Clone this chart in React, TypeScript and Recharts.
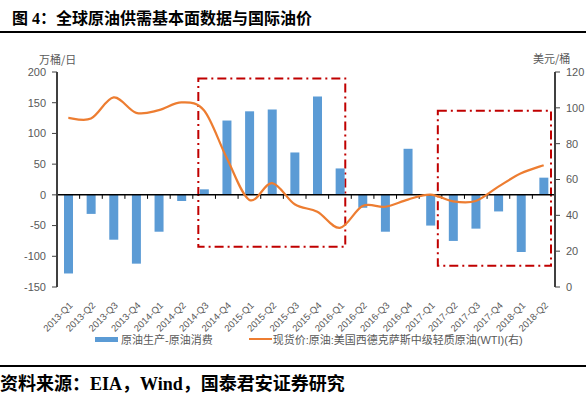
import React from "react"
import {
  ComposedChart, Bar, Line, XAxis, YAxis, ReferenceLine, ReferenceArea, Legend,
} from "recharts"

/* eslint-disable @typescript-eslint/no-explicit-any */

const quarters = [
  "2013-Q1", "2013-Q2", "2013-Q3", "2013-Q4", "2014-Q1", "2014-Q2", "2014-Q3", "2014-Q4",
  "2015-Q1", "2015-Q2", "2015-Q3", "2015-Q4", "2016-Q1", "2016-Q2", "2016-Q3", "2016-Q4",
  "2017-Q1", "2017-Q2", "2017-Q3", "2017-Q4", "2018-Q1", "2018-Q2",
]
// 原油生产-原油消费 (万桶/日)
const supplyGap = [
  -128, -31, -73, -112, -60, -10, 9, 121, 136, 139, 69, 160,
  43, -21, -60, 75, -50, -75, -55, -27, -93, 28,
]
// WTI 现货价 (美元/桶)
const wti = [
  94.4, 94, 105.8, 97.2, 98.7, 103, 98.5, 72, 48.6, 58, 46.2, 42,
  33, 45.2, 44.8, 48.8, 51.6, 47.8, 48, 56, 63.5, 68,
]
const leftTicks = [-150, -100, -50, 0, 50, 100, 150, 200]
const rightTicks = [0, 20, 40, 60, 80, 100, 120]

const BAR_COLOR = "#5B9BD5"
const LINE_COLOR = "#ED7D31"
const BOX_COLOR = "#C00000"
const TEXT_GRAY = "#595959"
const AXIS_GRAY = "#404040"

const chartData = quarters.map((q, i) => ({ q, gap: supplyGap[i], wti: wti[i] }))

// Excel-style smoothed line (catmull-rom through the points)
function excelSmooth(context: any) {
  let pts: number[][] = []
  return {
    areaStart() {},
    areaEnd() {},
    lineStart() { pts = [] },
    point(x: number, y: number) { pts.push([+x, +y]) },
    lineEnd() {
      if (!pts.length) return
      context.moveTo(pts[0][0], pts[0][1])
      for (let i = 0; i < pts.length - 1; i++) {
        const p0 = pts[i - 1] || pts[i]
        const p1 = pts[i]
        const p2 = pts[i + 1]
        const p3 = pts[i + 2] || pts[i + 1]
        context.bezierCurveTo(
          p1[0] + (p2[0] - p0[0]) / 6, p1[1] + (p2[1] - p0[1]) / 6,
          p2[0] - (p3[0] - p1[0]) / 6, p2[1] - (p3[1] - p1[1]) / 6,
          p2[0], p2[1],
        )
      }
    },
  }
}

const boxShape = (dl: number, dr: number) => (props: any) => (
  <rect
    x={props.x + dl}
    y={props.y}
    width={props.width - dl + dr}
    height={props.height}
    fill="none"
    stroke={BOX_COLOR}
    strokeWidth={2}
    strokeDasharray="9 4 2 4"
  />
)

// zero line with small category-boundary ticks hanging below it
const ZeroLine = (props: any) => {
  const { x1, x2, y1 } = props
  const step = (x2 - x1) / quarters.length
  return (
    <g>
      <line x1={x1} x2={x2} y1={y1} y2={y1} stroke="#000" strokeWidth={1.5} />
      {quarters.slice(1).map((q, i) => (
        <line key={q} x1={x1 + step * (i + 1)} x2={x1 + step * (i + 1)} y1={y1} y2={y1 + 4} stroke="#000" strokeWidth={1} />
      ))}
    </g>
  )
}

const XTick = ({ x, y, payload }: any) => (
  <text
    transform={`translate(${x + 5},${y + 19}) rotate(-45)`}
    textAnchor="end"
    fontSize={9.5}
    fill={TEXT_GRAY}
    fontFamily="Liberation Sans, Arial, sans-serif"
  >
    {payload.value}
  </text>
)

const LegendContent = () => (
  <div style={{ display: "flex", alignItems: "center", fontSize: 11, color: TEXT_GRAY, fontFamily: "Liberation Sans, 'Noto Sans CJK SC', sans-serif" }}>
    <span style={{ display: "inline-block", width: 23, height: 5, background: BAR_COLOR, marginLeft: 95, marginRight: 3 }} />
    <span>原油生产-原油消费</span>
    <span style={{ display: "inline-block", width: 23, height: 2, background: LINE_COLOR, marginLeft: 36, marginRight: 1 }} />
    <span>现货价:原油:美国西德克萨斯中级轻质原油(WTI)(右)</span>
  </div>
)

export default function App() {
  return (
    <div style={{ position: "absolute", left: 0, top: 0, width: 586, height: 395, background: "#fff", overflow: "hidden" }}>
      {/* ─── Title ─── */}
      <div style={{ position: "absolute", left: 12, top: 5, fontSize: 16, fontWeight: 700, color: "#000", fontFamily: "'Liberation Serif', 'Noto Sans CJK SC', serif", whiteSpace: "nowrap" }}>
        图 4：全球原油供需基本面数据与国际油价
      </div>
      <div style={{ position: "absolute", left: 0, top: 31, width: 586, height: 2, background: "#000" }} />

      {/* ─── Units ─── */}
      <div style={{ position: "absolute", left: 39, top: 51, fontSize: 11, color: TEXT_GRAY, fontFamily: "'Noto Sans CJK SC', sans-serif" }}>万桶/日</div>
      <div style={{ position: "absolute", left: 533, top: 50, fontSize: 11, color: TEXT_GRAY, fontFamily: "'Noto Sans CJK SC', sans-serif" }}>美元/桶</div>

      <div style={{ position: "absolute", left: 0, top: 0 }}>
        <ComposedChart width={586} height={395} data={chartData} margin={{ top: 72, right: 0, left: 0, bottom: 48 }} barCategoryGap={0}>
          <XAxis dataKey="q" xAxisId={0} interval={0} tick={<XTick />} tickSize={0} tickMargin={0} axisLine={false} tickLine={false} height={60} />
          <YAxis
            yAxisId="left" orientation="left" width={57} domain={[-150, 200]} ticks={leftTicks}
            tick={{ fontSize: 11, fill: TEXT_GRAY, fontFamily: "Liberation Sans, Arial, sans-serif" }}
            axisLine={{ stroke: AXIS_GRAY, strokeWidth: 2 }} tickLine={{ stroke: AXIS_GRAY }} tickSize={5} tickMargin={6}
          />
          <YAxis
            yAxisId="right" orientation="right" width={31} domain={[0, 120]} ticks={rightTicks}
            tick={{ fontSize: 11, fill: TEXT_GRAY, fontFamily: "Liberation Sans, Arial, sans-serif", textAnchor: "start" }}
            axisLine={{ stroke: AXIS_GRAY, strokeWidth: 2 }} tickLine={{ stroke: AXIS_GRAY }} tickSize={5} tickMargin={6}
          />
          <Bar yAxisId="left" dataKey="gap" name="原油生产-原油消费" fill={BAR_COLOR} barSize={9} isAnimationActive={false} />
          <ReferenceLine yAxisId="left" y={0} shape={<ZeroLine />} />
          <Line
            yAxisId="right" dataKey="wti" name="现货价:原油:美国西德克萨斯中级轻质原油(WTI)(右)"
            type={excelSmooth as any} stroke={LINE_COLOR} strokeWidth={2.2} dot={false} isAnimationActive={false}
          />
          <ReferenceArea yAxisId="left" x1="2014-Q3" x2="2016-Q1" y1={-84.5} y2={189.6} ifOverflow="visible" shape={boxShape(5.5, -6)} />
          <ReferenceArea yAxisId="left" x1="2017-Q2" x2="2018-Q2" y1={-115.5} y2={137} ifOverflow="visible" shape={boxShape(-4, -4)} />
          <Legend layout="horizontal" verticalAlign="middle" align="center" wrapperStyle={{ top: 331, left: 0, width: 586 }} content={<LegendContent />} />
        </ComposedChart>
      </div>

      {/* ─── Source ─── */}
      <div style={{ position: "absolute", left: 0, top: 365, width: 586, height: 2, background: "#000" }} />
      <div style={{ position: "absolute", left: 0, top: 369, fontSize: 18, fontWeight: 700, color: "#000", fontFamily: "'Liberation Serif', 'Noto Sans CJK SC', serif", whiteSpace: "nowrap" }}>
        资料来源：EIA，Wind，国泰君安证券研究
      </div>
    </div>
  )
}
